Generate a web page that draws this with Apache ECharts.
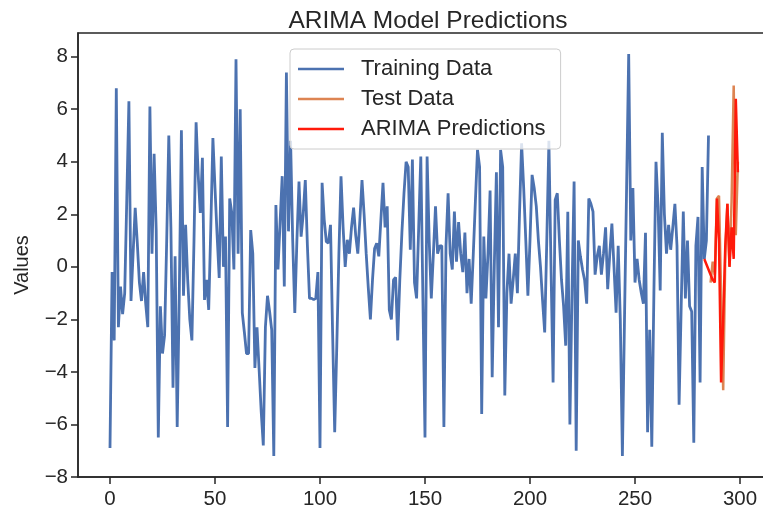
<!DOCTYPE html>
<html>
<head>
<meta charset="utf-8">
<script src="https://cdn.jsdelivr.net/npm/echarts@6/dist/echarts.min.js"></script>
<style>
html,body{margin:0;padding:0;background:#fff;overflow:hidden;}
#chart{width:775px;height:511px;}
</style>
</head>
<body>
<div id="chart"></div>
<script>
// ---- data ----
const trainValues = [
-6.9,-0.2,-2.8,6.8,-2.3,-0.75,-1.8,-1.0,2.6,6.3,
-1.3,0.5,2.25,0.9,-0.6,-1.3,-0.2,-1.4,-2.3,6.1,
0.5,4.3,1.4,-6.5,-1.5,-3.3,-2.6,1.0,5.0,1.5,
-4.6,0.4,-6.1,-1.0,5.2,-1.1,1.6,-0.5,-2.0,-2.8,
1.0,5.5,3.5,2.05,4.15,-1.26,-0.5,-1.64,1.5,4.9,
3.0,1.2,-0.42,4.2,0.0,1.15,-6.1,2.6,2.05,-0.1,
7.9,0.5,6.0,-1.75,-2.5,-3.3,-3.3,1.4,0.5,-3.85,
-2.3,-3.9,-5.5,-6.8,-2.3,-1.1,-1.7,-2.4,-7.2,2.35,
-0.1,1.7,3.45,-0.75,7.4,1.35,4.8,1.0,-1.76,1.0,
3.25,1.15,2.0,3.3,0.8,-1.2,-1.2,-1.25,-1.2,-0.2,
-6.9,3.2,1.8,0.96,0.9,1.6,-2.5,-6.3,-3.0,0.5,
3.45,1.5,0.0,1.03,0.5,1.5,2.25,1.2,0.5,1.8,
3.3,2.0,0.5,-0.8,-2.0,-0.5,0.7,0.9,0.4,1.8,
3.2,1.5,2.3,-1.64,-2.0,-0.5,-0.4,-2.8,-0.5,1.3,
2.8,4.0,3.8,0.65,4.08,-0.6,-1.2,1.5,4.2,-1.2,
-6.5,4.2,1.0,-1.2,0.5,2.3,0.5,0.8,0.8,-6.1,
0.8,2.8,0.5,-0.1,2.1,0.2,1.7,0.5,-0.2,1.3,
-1.0,0.3,-1.4,0.5,2.5,4.45,3.8,-5.6,1.15,-1.2,
0.5,2.9,-4.2,0.0,3.6,-2.3,4.45,3.8,-4.9,-1.0,
0.5,-1.4,-0.5,0.5,-1.0,2.0,4.7,3.0,1.0,-1.1,
1.0,3.5,3.0,2.3,1.0,0.0,-1.3,-2.5,1.0,4.8,
0.0,-4.4,2.55,2.8,1.0,-0.5,-1.5,-3.0,2.1,-6.0,
-1.0,3.25,-7.0,1.0,0.4,-0.1,-0.5,-1.4,2.6,2.4,
2.1,-0.3,0.4,0.8,-0.3,0.5,1.5,-0.85,0.5,1.65,
0.0,-1.75,0.8,-2.0,-7.2,-2.0,3.0,8.1,1.0,3.0,
-0.6,0.3,-0.5,-1.0,-1.4,1.3,-6.3,-2.4,-6.85,-1.0,
4.0,2.3,-0.9,5.1,2.0,0.5,1.6,0.65,1.5,2.4,
0.8,-5.25,-1.5,2.1,-1.2,1.0,-1.5,-1.7,-6.7,0.8,
1.9,-4.4,3.8,0.3,1.0,5.0
];
const testStart = 286;
const testValues = [-0.6,0.2,-0.3,2.6,2.7,-1.0,-4.7,0.5,2.4,0.0,2.5,6.9,1.2,4.0];
const predStart = 283;
const predValues = [0.3,0.1,-0.1,-0.3,-0.5,-0.6,2.6,1.0,-4.4,-2.0,0.8,2.4,0.0,1.5,0.3,6.4,3.6];
const xTicks = [0,50,100,150,200,250,300];
const yTicks = [-8,-6,-4,-2,0,2,4,6,8];
const seriesNames = ['Training Data','Test Data','ARIMA Predictions'];
const seriesColors = ['#4c72b0','#dd8452','#ff1a0a'];

const fmt = v => String(v).replace('-', '\u2212');
const FONT = '"Liberation Sans", Arial, sans-serif';
const INK = '#262626';

const chart = echarts.init(document.getElementById('chart'), null, {renderer:'canvas'});
chart.setOption({
  animation:false,
  backgroundColor:'#fff',
  title:{
    text:'ARIMA Model Predictions',
    left:423, top:4, textAlign:'center',
    textStyle:{fontFamily:FONT,fontSize:24.5,fontWeight:'normal',color:INK}
  },
  graphic:[{
    type:'text', x:22, y:265, rotation:Math.PI/2,
    style:{text:'Values', fontFamily:FONT, fontSize:20, fill:INK, textAlign:'center', textVerticalAlign:'middle'}
  }],
  legend:{
    orient:'vertical', left:290, top:49,
    data:seriesNames,
    icon:'rect', itemWidth:46, itemHeight:2.5, itemGap:8,
    padding:[9,15,9,8],
    backgroundColor:'rgba(255,255,255,0.8)',
    borderColor:'#cccccc', borderWidth:1, borderRadius:4,
    textStyle:{fontFamily:FONT,fontSize:22,color:INK,padding:[0,0,0,12]}
  },
  grid:{left:78, top:33, right:8, bottom:34, show:true, borderColor:INK, borderWidth:1.5, backgroundColor:'transparent'},
  xAxis:{
    type:'value', min:-15.24, max:312.86,
    splitLine:{show:false},
    axisLine:{show:true,onZero:false,lineStyle:{color:INK,width:1.5}},
    axisTick:{show:true,length:7,lineStyle:{color:INK,width:1.5},customValues:xTicks},
    axisLabel:{fontFamily:FONT,fontSize:20.5,color:INK,margin:12,customValues:xTicks,formatter:fmt}
  },
  yAxis:{
    type:'value', min:-8, max:8.9,
    splitLine:{show:false},
    axisLine:{show:true,onZero:false,lineStyle:{color:INK,width:1.5}},
    axisTick:{show:true,length:7,lineStyle:{color:INK,width:1.5},customValues:yTicks},
    axisLabel:{fontFamily:FONT,fontSize:20.5,color:INK,margin:10,customValues:yTicks,formatter:fmt}
  },
  series:[
    {name:seriesNames[0],type:'line',showSymbol:false,z:2,
     data:trainValues.map((v,i)=>[i,v]),
     lineStyle:{color:seriesColors[0],width:2.8},itemStyle:{color:seriesColors[0]}},
    {name:seriesNames[1],type:'line',showSymbol:false,z:3,
     data:testValues.map((v,i)=>[testStart+i,v]),
     lineStyle:{color:seriesColors[1],width:2.5},itemStyle:{color:seriesColors[1]}},
    {name:seriesNames[2],type:'line',showSymbol:false,z:4,
     data:predValues.map((v,i)=>[predStart+i,v]),
     lineStyle:{color:seriesColors[2],width:2.5},itemStyle:{color:seriesColors[2]}}
  ]
});
</script>
</body>
</html>
